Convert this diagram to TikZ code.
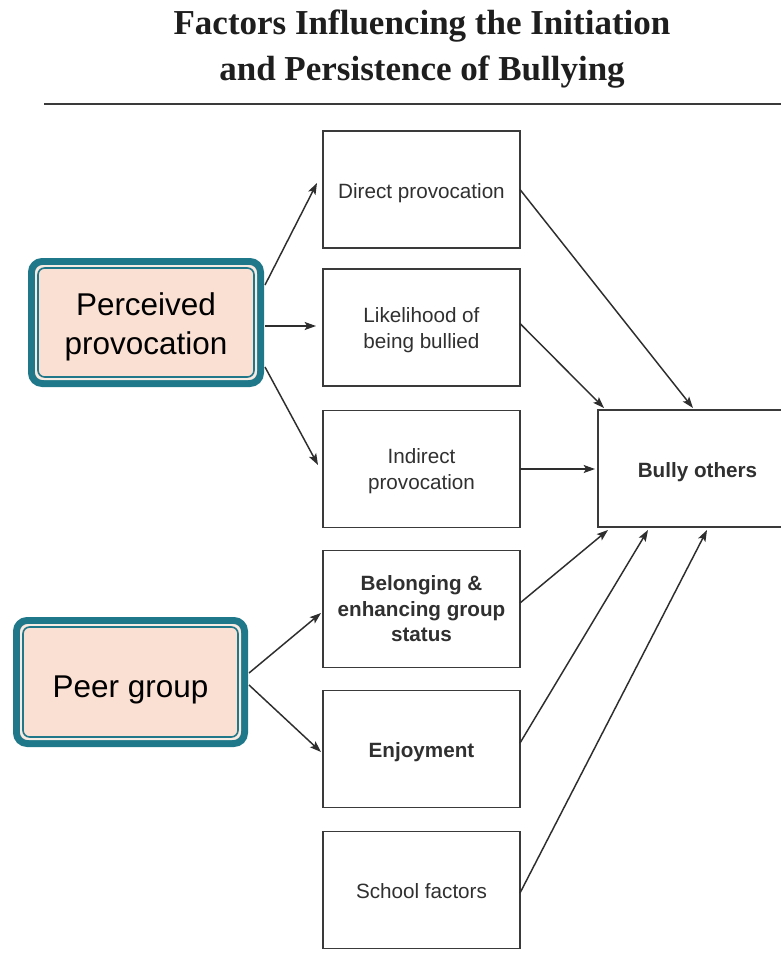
\documentclass[tikz,border=0pt]{standalone}
\usepackage{fontspec}
\setmainfont{Liberation Sans}
\newfontfamily\titlefont{Liberation Serif}
\usetikzlibrary{arrows.meta,calc}
\definecolor{tealb}{HTML}{1F788A}
\definecolor{pinkf}{HTML}{FADFD3}
\definecolor{pinkl}{HTML}{F6ECE4}
\definecolor{boxline}{HTML}{3A3A3A}
\definecolor{txt}{HTML}{303030}
\definecolor{arr}{HTML}{2E2E2E}
\definecolor{titlec}{HTML}{1E1E1E}
\begin{document}
\begin{tikzpicture}[x=0.75pt,y=-0.75pt,
  factor/.style={draw=boxline, line width=1.1pt, fill=white, minimum width=147.75pt,
    minimum height=87.75pt, inner sep=0pt, outer sep=0pt, align=center, text=txt,
    font=\fontsize{15.5pt}{19.5pt}\selectfont},
  factorb/.style={factor, font=\fontsize{15.5pt}{19.1pt}\selectfont\bfseries},
  oneline/.style={text height=13.2pt, text depth=0pt},
  mainbox/.style={draw=tealb, line width=5.25pt, fill=pinkf, rounded corners=8pt,
    inner sep=0pt, outer sep=0pt, align=center, text=black,
    font=\fontsize{23.6pt}{29.25pt}\selectfont},
  ringlight/.style={draw=pinkl, line width=1.5pt, rounded corners=6pt},
  ringteal/.style={draw=tealb, line width=1.2pt, rounded corners=5pt},
  titletext/.style={anchor=base, inner sep=0pt, text=titlec,
    font=\titlefont\bfseries\fontsize{26.25pt}{34.5pt}\selectfont},
  link/.style={draw=arr, line width=1.1pt, -{Stealth[length=8.5pt,width=6pt,inset=1.8pt]}}
]
\useasboundingbox (0,0) rectangle (781,953);
\clip (0,0) rectangle (781,953);
\fill[white] (0,0) rectangle (781,953);

% title
\node[titletext] (t1) at (422,34) {Factors Influencing the Initiation};
\node[titletext] (t2) at (422,80) {and Persistence of Bullying};
\coordinate (r1) at (44,104);
\coordinate (r2) at (781,104);
\draw[draw=boxline, line width=1.5pt] (r1) -- (r2);

% factor boxes
\node[factor, oneline]  (direct)   at (421.5,189.5) {Direct provocation};
\node[factor]  (likely)   at (421.5,327.5) {\rule{0pt}{15.5pt}Likelihood of\\being bullied};
\node[factor]  (indirect) at (421.5,469)   {\rule{0pt}{14.5pt}Indirect\\provocation};
\node[factorb] (belong)   at (421.5,609)   {Belonging \&\\enhancing group\\status};
\node[factorb, oneline] (enjoy)    at (421.5,749)   {Enjoyment};
\node[factor, oneline]  (school)   at (421.5,890)   {School factors};
\node[factorb, oneline, minimum width=149.25pt] (bully) at (697.5,468.5) {Bully others};

% main boxes
\node[mainbox, minimum width=171.75pt, minimum height=91.5pt] (pp) at (146,322.5) {\rule{0pt}{23pt}Perceived\\provocation};
\draw[ringlight] ($(pp.north west)+(4.5,4.5)$) rectangle ($(pp.south east)+(-4.5,-4.5)$);
\draw[ringteal]  ($(pp.north west)+(6.5,6.5)$) rectangle ($(pp.south east)+(-6.5,-6.5)$);
\node[mainbox, minimum width=171pt, minimum height=92.25pt, text height=22.5pt, text depth=0pt] (peer) at (130.5,682) {Peer group};
\draw[ringlight] ($(peer.north west)+(4.5,4.5)$) rectangle ($(peer.south east)+(-4.5,-4.5)$);
\draw[ringteal]  ($(peer.north west)+(6.5,6.5)$) rectangle ($(peer.south east)+(-6.5,-6.5)$);

% connectors
\draw[link] ($(pp.east)+(4.5,-37.5)$) -- ($(direct.west)+(-6,-6.5)$);
\draw[link] ($(pp.east)+(4.5,3.5)$) -- ($(likely.west)+(-7,-1.5)$);
\draw[link] ($(pp.east)+(4.5,44.5)$) -- ($(indirect.west)+(-5,-4)$);
\draw[link] ($(peer.east)+(4.5,-9)$) -- ($(belong.west)+(-2,4)$);
\draw[link] ($(peer.east)+(4.5,3)$) -- ($(enjoy.west)+(-2,3)$);

\draw[link] (direct.east) -- ($(bully.north)+(-4.5,-2)$);
\draw[link] ($(likely.east)+(0,-4)$) -- ($(bully.north)+(-93.5,-2)$);
\draw[link] (indirect.east) -- ($(bully.west)+(-3,0.5)$);
\draw[link] ($(belong.east)+(0,-6)$) -- ($(bully.south)+(-89.5,3)$);
\draw[link] ($(enjoy.east)+(0,-6)$) -- ($(bully.south)+(-49.5,3)$);
\draw[link] ($(school.east)+(0,3)$) -- ($(bully.south)+(9.5,3)$);
\end{tikzpicture}
\end{document}
